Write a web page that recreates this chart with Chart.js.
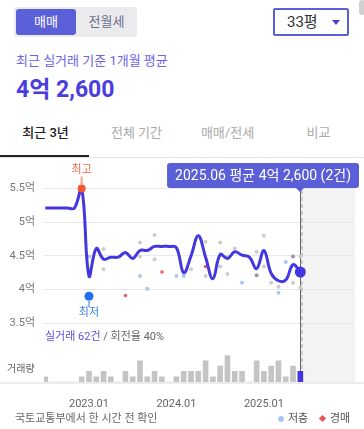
<!DOCTYPE html>
<html lang="ko">
<head>
<meta charset="utf-8">
<script src="https://cdn.jsdelivr.net/npm/chart.js@4.4.1/dist/chart.umd.min.js"></script>
<style>
  * { box-sizing: border-box; margin: 0; padding: 0; }
  body {
    width: 364px; height: 429px; background: #fff; position: relative; overflow: hidden;
    font-family: Roboto, "Noto Sans CJK KR", sans-serif;
  }
  .abs { position: absolute; white-space: nowrap; }
  .seg { left: 14px; top: 7px; width: 123px; height: 30px; background: #ebebee; border-radius: 3px; }
  .seg .on { left: 2px; top: 2px; width: 60px; height: 26px; background: #5b5fd8; color: #fff;
    border-radius: 3px; font-size: 13px; line-height: 26px; text-align: center; }
  .seg .off { left: 62px; top: 2px; width: 61px; height: 26px; color: #6a6d8e;
    font-size: 13px; line-height: 26px; text-align: center; }
  .drop { left: 273px; top: 8px; width: 76px; height: 28px; border: 2px solid #5b5fd8; border-radius: 2px; }
  .tri { left: 332px; top: 20px; width: 0; height: 0; border-left: 4px solid transparent;
    border-right: 4px solid transparent; border-top: 5px solid #4a3fe0; }
  .tabs { left: 0; top: 122px; width: 364px; height: 22px; display: flex; }
  .tabs div { flex: 1; text-align: center; font-size: 13px; line-height: 22px; color: #aaa; }
  .tabs div.cur { color: #222; font-weight: 500; }
  #wrap { left: 0; top: 150px; width: 364px; height: 260px; }
</style>
</head>
<body>
<div class="abs seg">
  <div class="abs on">매매</div>
  <div class="abs off">전월세</div>
</div>
<div class="abs drop"></div>
<div class="abs" style="left:287px;top:12px;font-size:15px;line-height:20px;color:#333;">33평</div>
<div class="abs tri"></div>
<div class="abs" style="left:359px;top:0;width:6px;height:15px;background:#d0d0d0;border-radius:3px;"></div>

<div class="abs" style="left:16px;top:53px;font-size:13px;line-height:16px;color:#6e64e6;">최근 실거래 기준 1개월 평균</div>
<div class="abs" style="left:16px;top:76px;font-size:23px;line-height:28px;font-weight:700;color:#4a3de0;">4억 2,600</div>

<div class="abs tabs">
  <div class="cur">최근 3년</div><div>전체 기간</div><div>매매/전세</div><div>비교</div>
</div>
<div class="abs" style="left:0;top:157px;width:364px;height:1px;background:#e3e3e3;"></div>
<div class="abs" style="left:0;top:155px;width:89px;height:2px;background:#222;"></div>

<div class="abs" style="left:0;top:382px;width:364px;height:2px;background:#ececec;"></div>
<div class="abs" id="wrap"><canvas id="chart" width="364" height="260"></canvas></div>

<div class="abs" style="left:45px;top:330px;font-size:11px;line-height:14px;color:#666;">
  <span style="color:#5b50e0;">실거래 62건</span> / 회전율 40%</div>
<div class="abs" style="left:7px;top:362px;font-size:10px;line-height:14px;color:#666;">거래량</div>

<div class="abs" style="left:15px;top:412px;font-size:11px;line-height:14px;color:#666;">국토교통부에서 한 시간 전 확인</div>
<div class="abs" style="left:278px;top:416px;width:6px;height:6px;border-radius:3px;background:#a9c8f0;"></div>
<div class="abs" style="left:288px;top:412px;font-size:11px;line-height:14px;color:#555;">저층</div>
<div class="abs" style="left:320px;top:416px;width:5px;height:5px;background:#f05050;transform:rotate(45deg);"></div>
<div class="abs" style="left:330px;top:412px;font-size:11px;line-height:14px;color:#555;">경매</div>

<script>
// month index 0 = 2022.07 ... 35 = 2025.06
const priceAvg = [
  5.21, 5.21, 5.21, 5.21, 5.21, 5.50, 4.20, 4.61, 4.45, 4.48, 4.48, 4.55,
  4.46, 4.58, 4.58, 4.64, 4.64, 4.64, 4.62, 4.25, 4.50, 4.80, 4.48, 4.16,
  4.52, 4.46, 4.56, 4.51, 4.48, 4.31, 4.58, 4.24, 4.13, 4.14, 4.37, 4.26
];
const volume = [
  1, 0, 0, 0, 0, 1, 2, 1, 2, 1, 0, 2,
  1, 4, 1, 2, 1, 0, 1, 2, 2, 2, 4, 1,
  3, 5, 2, 2, 0, 4, 2, 3, 4, 1, 3, 2
];
const dealsGray = [
  [8, 4.60], [8, 4.30], [13, 4.70], [13, 4.49], [15, 4.81], [15, 4.45], [20, 4.30],
  [22, 4.71], [22, 4.20], [24, 4.70], [24, 4.34], [25, 4.49], [25, 4.23], [26, 4.61],
  [29, 4.56], [30, 4.80], [30, 4.34], [31, 4.10], [32, 4.04], [34, 4.10], [35, 4.49], [35, 4.03]
];
const dealsDark = [[29, 4.21], [34, 4.49]];
const dealsLowFloor = [[6, 4.49], [13, 4.20], [14, 4.01], [18, 4.20], [19, 4.20], [27, 4.10], [32, 3.95], [33, 4.41]];
const dealsAuction = [[11, 3.91], [16, 4.26], [22, 4.34]];
const highPoint = [5, 5.50];
const lowPoint = [6, 3.90];
const lastIdx = 35;
const priceTicks = [3.5, 4, 4.5, 5, 5.5];
const xTicks = [6, 18, 30];
const xTickLabels = ["2023.01", "2024.01", "2025.01"];
const tooltipText = "2025.06 평균 4억 2,600 (2건)";

const pts = arr => arr.map(([x, y]) => ({ x, y }));
const FONT = 'Roboto, "Noto Sans CJK KR", sans-serif';

const overlay = {
  id: "overlay",
  beforeDraw(chart) {
    const { ctx, chartArea: a, scales: { x } } = chart;
    const px = x.getPixelForValue(lastIdx);
    ctx.save();
    ctx.fillStyle = "#f3f3f3";
    ctx.fillRect(px, a.top, a.right - px, a.bottom - a.top);
    ctx.restore();
  },
  beforeDatasetsDraw(chart) {
    const { ctx, chartArea: a, scales: { x } } = chart;
    const px = Math.round(x.getPixelForValue(lastIdx));
    ctx.save();
    ctx.strokeStyle = "#cfcfcf";
    ctx.lineWidth = 2;
    ctx.setLineDash([4, 3]);
    ctx.beginPath();
    ctx.moveTo(px + 2, 40);
    ctx.lineTo(px + 2, a.bottom);
    ctx.stroke();
    ctx.setLineDash([]);
    ctx.strokeStyle = "#666";
    ctx.lineWidth = 1;
    ctx.beginPath();
    ctx.moveTo(px + 0.5, 38);
    ctx.lineTo(px + 0.5, a.bottom);
    ctx.stroke();
    ctx.restore();
  },
  afterDatasetsDraw(chart) {
    const { ctx, scales: { x, y } } = chart;
    ctx.save();
    ctx.font = "11px " + FONT;
    ctx.textAlign = "center";
    ctx.textBaseline = "middle";
    ctx.lineWidth = 2;
    // 최고
    let hx = x.getPixelForValue(highPoint[0]), hy = y.getPixelForValue(highPoint[1]);
    ctx.strokeStyle = "#f8a585";
    ctx.beginPath(); ctx.moveTo(hx, hy - 12); ctx.lineTo(hx, hy - 4); ctx.stroke();
    ctx.fillStyle = "#f06a45";
    ctx.fillText("최고", hx, hy - 18);
    // 최저
    let lx = x.getPixelForValue(lowPoint[0]), ly = y.getPixelForValue(lowPoint[1]);
    ctx.strokeStyle = "#8cbaf2";
    ctx.beginPath(); ctx.moveTo(lx, ly + 4); ctx.lineTo(lx, ly + 11); ctx.stroke();
    ctx.fillStyle = "#3a80e0";
    ctx.fillText("최저", lx, ly + 17);
    ctx.restore();
  },
  afterDraw(chart) {
    const { ctx, scales: { x } } = chart;
    const px = Math.round(x.getPixelForValue(lastIdx));
    ctx.save();
    ctx.font = "14px " + FONT;
    const tw = ctx.measureText(tooltipText).width;
    const w = tw + 16, h = 25, right = chart.width - 5, top = 13;
    const left = right - w;
    ctx.fillStyle = "#5a5fd8";
    ctx.beginPath();
    ctx.roundRect(left, top, w, h, 3);
    ctx.fill();
    ctx.beginPath();
    ctx.moveTo(px - 4, top + h);
    ctx.lineTo(px + 4, top + h);
    ctx.lineTo(px, top + h + 4);
    ctx.closePath();
    ctx.fill();
    ctx.fillStyle = "#fff";
    ctx.textAlign = "center";
    ctx.textBaseline = "middle";
    ctx.fillText(tooltipText, left + w / 2, top + h / 2 + 0.5);
    ctx.restore();
  }
};

const scatterSet = (data, color, r, order) => ({
  type: "scatter", data: pts(data), yAxisID: "y",
  pointRadius: r, pointBackgroundColor: color, pointBorderWidth: 0, order
});

new Chart(document.getElementById("chart"), {
  type: "line",
  data: {
    datasets: [
      {
        type: "scatter", yAxisID: "y", order: 0,
        data: pts([highPoint, lowPoint, [lastIdx, priceAvg[lastIdx]]]),
        pointRadius: [4, 4.5, 5.5],
        pointBackgroundColor: ["#f2582b", "#1f6ff0", "#4237e0"],
        pointBorderWidth: 0
      },
      {
        type: "line", yAxisID: "y", order: 1,
        data: priceAvg.map((v, i) => ({ x: i, y: v })),
        borderColor: "#4237e0", borderWidth: 3, tension: 0.4,
        pointRadius: 0, fill: false
      },
      scatterSet(dealsGray, "#cdcdcd", 2, 3),
      scatterSet(dealsDark, "#9a9a9a", 2, 3),
      scatterSet(dealsLowFloor, "#a9c8f0", 2, 2),
      scatterSet(dealsAuction, "#f05a5a", 1.8, 2),
      {
        type: "bar", yAxisID: "yv", order: 5,
        data: volume.map((v, i) => ({ x: i, y: v })),
        backgroundColor: volume.map((_, i) => i === lastIdx ? "#4237e0" : "#c4c4c4"),
        barThickness: 5
      }
    ]
  },
  options: {
    responsive: false,
    animation: false,
    devicePixelRatio: 1,
    events: [],
    layout: { padding: { top: 15, right: 9, left: 0, bottom: 0 } },
    plugins: { legend: { display: false }, tooltip: { enabled: false } },
    scales: {
      x: {
        type: "linear", min: -0.17, max: 42.5, offset: false,
        grid: { display: false, offset: false }, border: { display: false },
        afterBuildTicks: s => { s.ticks = xTicks.map(v => ({ value: v })); },
        afterFit: s => { s.height = 28; },
        ticks: {
          padding: 8, color: "#666", font: { size: 11, family: FONT }, maxRotation: 0,
          callback: v => xTickLabels[xTicks.indexOf(v)]
        }
      },
      y: {
        min: 2.626, max: 5.8407,
        grid: { color: "#e8e8e8", drawTicks: false },
        border: { display: false },
        afterBuildTicks: s => { s.ticks = priceTicks.map(v => ({ value: v })); },
        afterFit: s => { s.width = 44; },
        ticks: {
          padding: 9, color: "#777", font: { size: 11, family: FONT },
          callback: v => v + "억"
        }
      },
      yv: { display: false, min: 0, max: 41 }
    }
  },
  plugins: [overlay]
});
</script>
</body>
</html>
